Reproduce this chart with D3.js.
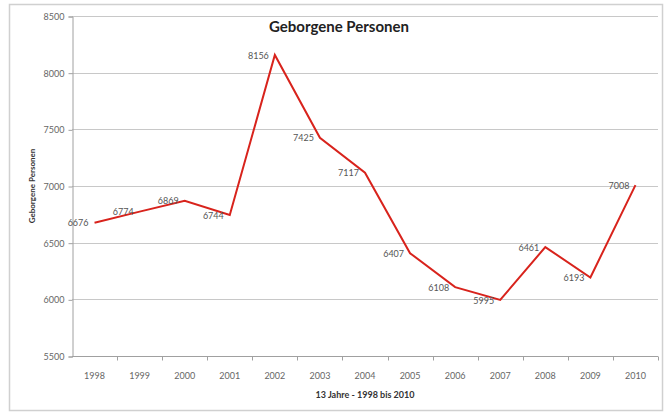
<!DOCTYPE html>
<html>
<head>
<meta charset="utf-8">
<script src="https://cdn.jsdelivr.net/npm/d3@7"></script>
<style>
  body { margin: 0; background: #fff; }
  svg text { font-family: Lato, "Open Sans", "Liberation Sans", sans-serif; }
  .tick-label { fill: #666; font-size: 9px; }
  .value-label { fill: #555; font-size: 9px; }
  .grid { stroke: #c8c8c8; stroke-width: 1; }
  .axis-line { stroke: #a0a0a0; stroke-width: 1; }
</style>
</head>
<body>
<svg id="chart" width="669" height="412"></svg>
<script>
// chart data
var years = ['1998','1999','2000','2001','2002','2003','2004','2005','2006','2007','2008','2009','2010'];
var persons = [6676, 6774, 6869, 6744, 8156, 7425, 7117, 6407, 6108, 5995, 6461, 6193, 7008];
var yTicks = [5500, 6000, 6500, 7000, 7500, 8000, 8500];

var svg = d3.select('#chart');

// outer frame
svg.append('rect')
  .attr('x', 9.5).attr('y', 4.5)
  .attr('width', 653).attr('height', 406)
  .attr('fill', '#fff')
  .attr('stroke', '#d0d0d0')
  .attr('stroke-width', 1.5);

var plotLeft = 72, plotRight = 658, plotTop = 16, plotBottom = 356;

var scaleX = d3.scaleBand().domain(years).range([plotLeft, plotRight]);
var scaleY = d3.scaleLinear().domain([5500, 8500]).range([plotBottom, plotTop]);

// gridlines
svg.selectAll('.grid')
  .data(yTicks.filter(function(d){ return d > 5500; }))
  .enter().append('line')
  .attr('class', 'grid')
  .attr('x1', plotLeft).attr('x2', plotRight)
  .attr('y1', function(d){ return Math.round(scaleY(d)) + 0.5; })
  .attr('y2', function(d){ return Math.round(scaleY(d)) + 0.5; });

// y axis
var yAxis = d3.axisLeft(scaleY).tickValues(yTicks).tickSize(4).tickPadding(4).tickFormat(d3.format('d'));
var gy = svg.append('g').attr('transform', 'translate(' + (plotLeft + 0.5) + ',0.5)').call(yAxis);
gy.select('.domain').attr('class', 'axis-line').attr('fill', 'none');
gy.selectAll('.tick line').attr('stroke', '#a0a0a0');
gy.selectAll('.tick text').attr('class', 'tick-label').attr('fill', null);
gy.attr('font-family', null).attr('font-size', null);

// x axis, ticks on band edges
var gx = svg.append('g').attr('transform', 'translate(0,' + (plotBottom + 0.5) + ')');
gx.append('line').attr('class', 'axis-line')
  .attr('x1', plotLeft).attr('x2', plotRight).attr('y1', 0).attr('y2', 0);
gx.selectAll('.xtick')
  .data(years)
  .enter().append('line')
  .attr('class', 'axis-line')
  .attr('x1', function(d){ return Math.round(scaleX(d) + scaleX.bandwidth()) + 0.5; })
  .attr('x2', function(d){ return Math.round(scaleX(d) + scaleX.bandwidth()) + 0.5; })
  .attr('y1', 0).attr('y2', 4);
gx.selectAll('.xlab')
  .data(years)
  .enter().append('text')
  .attr('class', 'tick-label')
  .attr('x', function(d){ return scaleX(d) + scaleX.bandwidth() / 2; })
  .attr('y', 22)
  .attr('text-anchor', 'middle')
  .text(function(d){ return d; });

// line
var line = d3.line()
  .x(function(d, i){ return scaleX(years[i]) + scaleX.bandwidth() / 2; })
  .y(function(d){ return scaleY(d); });

svg.append('path')
  .datum(persons)
  .attr('d', line)
  .attr('fill', 'none')
  .attr('stroke', '#d8231c')
  .attr('stroke-width', 2)
  .attr('stroke-linejoin', 'miter');

// value labels, left of each point
svg.selectAll('.value-label')
  .data(persons)
  .enter().append('text')
  .attr('class', 'value-label')
  .attr('x', function(d, i){ return scaleX(years[i]) + scaleX.bandwidth() / 2 - 6; })
  .attr('y', function(d){ return scaleY(d); })
  .attr('dy', '0.4em')
  .attr('text-anchor', 'end')
  .text(function(d){ return d; });

// title
svg.append('text')
  .attr('x', 339).attr('y', 32)
  .attr('text-anchor', 'middle')
  .attr('font-size', '15px')
  .attr('font-weight', 'bold')
  .attr('fill', '#222')
  .text('Geborgene Personen');

// axis titles
svg.append('text')
  .attr('x', 365).attr('y', 398)
  .attr('text-anchor', 'middle')
  .attr('font-size', '9px')
  .attr('font-weight', 'bold')
  .attr('fill', '#333')
  .text('13 Jahre - 1998 bis 2010');

svg.append('text')
  .attr('transform', 'translate(35,186) rotate(-90)')
  .attr('text-anchor', 'middle')
  .attr('font-size', '8px')
  .attr('font-weight', 'bold')
  .attr('fill', '#333')
  .text('Geborgene Personen');
</script>
</body>
</html>
